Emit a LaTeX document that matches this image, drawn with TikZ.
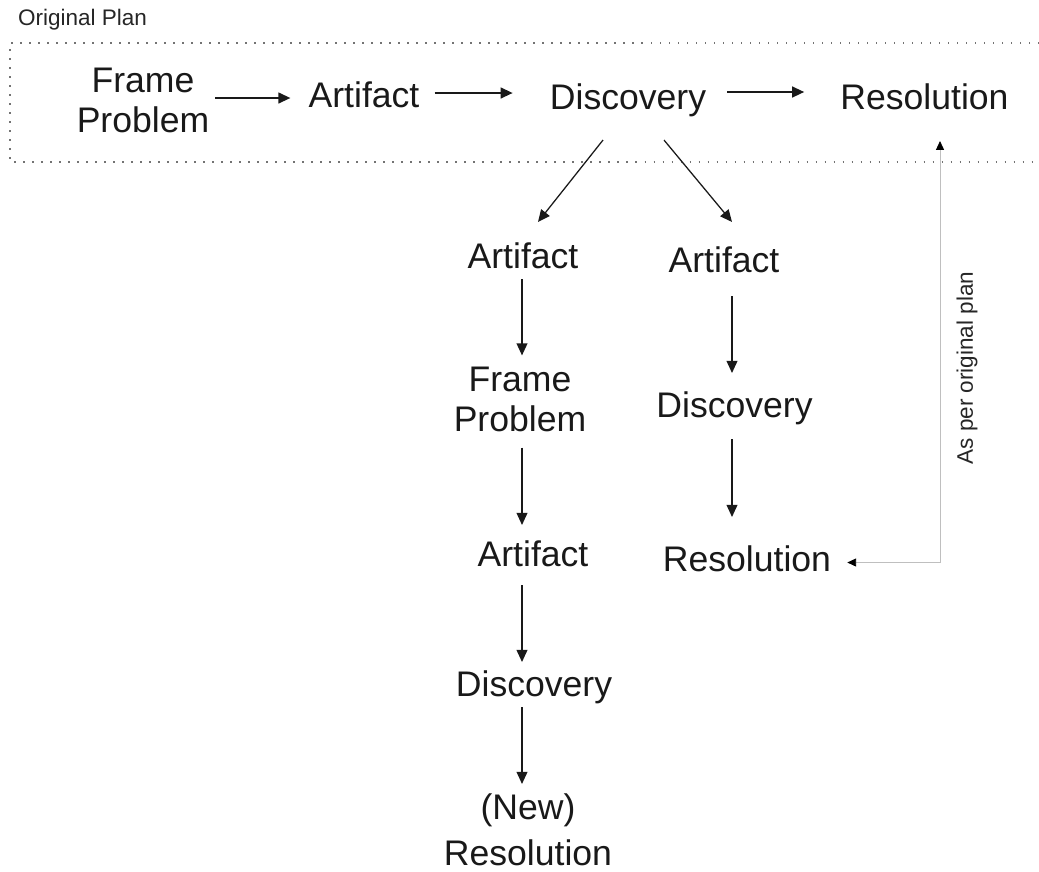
\documentclass[tikz,border=0pt]{standalone}
\usepackage{fontspec}
\setmainfont{Liberation Sans}
\usetikzlibrary{arrows.meta,calc}
\newcommand\bigtxt{\fontsize{25.3}{28.35}\selectfont}
\newcommand\smalltxt{\fontsize{16}{19}\selectfont}
\tikzset{
  word/.style={font=\bigtxt, text=black!90, text height=19pt, text depth=5.6pt, inner sep=1.4pt},
  words/.style={font=\bigtxt, text=black!90, align=center, inner sep=1.4pt},
  note/.style={font=\smalltxt, text=black!85, inner sep=1pt},
  arr/.style={line width=0.9pt, black!90, -{Triangle[length=0.3cm,width=0.27cm]}},
  thickarr/.style={arr, line width=1.3pt},
  backarr/.style={line width=0.6pt, black!25, {Triangle[length=0.22cm,width=0.2cm,color=black]}-{Triangle[length=0.22cm,width=0.2cm,color=black]}},
  dots/.style={line width=0.8pt, black!55, dash pattern=on 0.035cm off 0.19cm}
}
\begin{document}
\begin{tikzpicture}[x = 0.025cm, y = -0.025cm]%原计划
	\useasboundingbox (0,0) rectangle (1039,871);
	\draw[dots] (1039,43) -- (10,43) -- (10,162) -- (1039,162);
	\node[note] (plan) at (82.5,20) {Original Plan};
	% top row
	\node[words] (fp1) at (143,100) {Frame\\Problem};
	\node[word] (ar1) at (364,98.5) {Artifact};
	\node[word] (di1) at (628,100.5) {Discovery};
	\node[word] (re1) at (924.5,100.5) {Resolution};
	% left branch
	\node[word] (la1) at (523,259.5) {Artifact};
	\node[words] (lf) at (520,399) {Frame\\Problem};
	\node[word] (la2) at (533,557.5) {Artifact};
	\node[word] (ld) at (534,687.5) {Discovery};
	\node[words] (lr) at (528,830) {(New)\\[4pt]Resolution};
	% right branch
	\node[word] (ra) at (724,263.5) {Artifact};
	\node[word] (rd) at (734.5,408.5) {Discovery};
	\node[word] (rr) at (747,562.5) {Resolution};
	\node[note, rotate = 90] (asper) at (967,368) {As per original plan};
	\coordinate (lcol) at (522,0);
	\coordinate (rcol) at (732,0);
	\coordinate (side) at (940,565);

	\draw[thickarr, shorten <= 0.09cm, shorten >= 0.4cm] ($(fp1.east)+(0,-2)$) -- ($(ar1.west)+(0,-0.5)$);
	\draw[thickarr, shorten <= 0.325cm, shorten >= 0.875cm] ($(ar1.east)+(0,-5.5)$) -- ($(di1.west)+(0,-7.5)$);
	\draw[thickarr, shorten <= 0.475cm, shorten >= 0.85cm] ($(di1.east)+(0,-8.5)$) -- ($(re1.west)+(0,-8.5)$);
	\draw[arr] ($(di1.south)+(-25,20)$) -- ($(la1.north)+(15,-18)$);
	\draw[arr] ($(di1.south)+(36,20)$) -- ($(ra.north)+(8,-22)$);
	\draw[arr, shorten >= 0.225cm] (la1.south -| lcol) -- (lf.north -| lcol);
	\draw[arr, shorten <= 0.35cm, shorten >= 0.325cm] (lf.south -| lcol) -- (la2.north -| lcol);
	\draw[arr, shorten <= 0.2cm, shorten >= 0.15cm] (la2.south -| lcol) -- (ld.north -| lcol);
	\draw[arr, shorten >= 0.2cm] (ld.south -| lcol) -- (lr.north -| lcol);
	\draw[arr, shorten <= 0.325cm, shorten >= 0.4cm] (ra.south -| rcol) -- (rd.north -| rcol);
	\draw[arr, shorten <= 0.275cm, shorten >= 0.65cm] (rd.south -| rcol) -- (rr.north -| rcol);
	\draw[backarr, shorten <= 0.35cm, shorten >= 0.525cm] (rr.east) -| (side |- re1.south);
\end{tikzpicture}
\end{document}
